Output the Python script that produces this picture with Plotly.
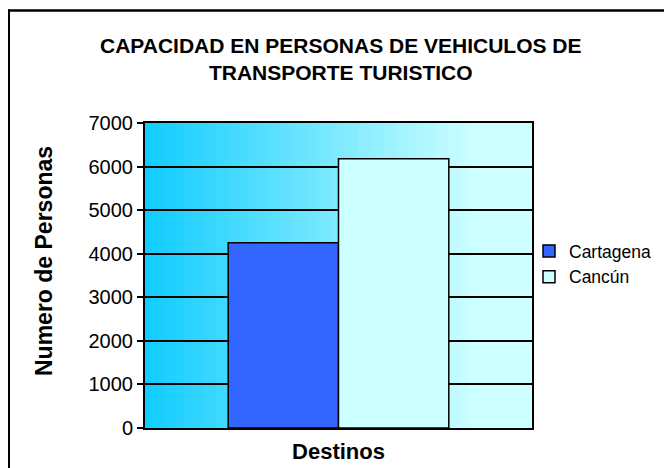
import plotly.graph_objects as go

destinos = ["Cartagena", "Cancún"]
capacidad = [4250, 6180]
colores = ["#3366FF", "#CCFFFF"]
y_ticks = [0, 1000, 2000, 3000, 4000, 5000, 6000, 7000]

FONT = "Liberation Sans, Arial, sans-serif"

# plot area in pixels: x 145..532, y 123..428
L, R, T, B = 145, 532, 123, 428
W, H = 664, 468
pw, ph = R - L, B - T


def px(xp):
    return (xp - L) / pw


def py(yp):
    return (B - yp) / ph


fig = go.Figure()
for nombre, valor, color in zip(destinos, capacidad, colores):
    fig.add_trace(go.Bar(
        x=["Destinos"], y=[valor], name=nombre,
        marker=dict(color=color, line=dict(color="black", width=1.5)),
    ))

# horizontal gradient background (cyan -> pale cyan)
shapes = []
n = 60
c0, c1 = (17, 204, 255), (204, 255, 255)
for i in range(n):
    t = min(1.0, (i + 0.5) / n / 0.85)
    c = tuple(round(a + (b - a) * t) for a, b in zip(c0, c1))
    shapes.append(dict(
        type="rect", xref="paper", yref="paper", layer="below",
        x0=i / n, x1=(i + 1) / n + 0.002, y0=0, y1=1,
        fillcolor="rgb(%d,%d,%d)" % c, line=dict(width=0),
    ))
# outer chart border (top and left edges; the rest falls outside the view)
shapes.append(dict(type="line", xref="paper", yref="paper", layer="above",
                   x0=px(8), x1=px(664), y0=py(10.5), y1=py(10.5),
                   line=dict(color="black", width=2.5)))
shapes.append(dict(type="line", xref="paper", yref="paper", layer="above",
                   x0=px(9), x1=px(9), y0=py(9.5), y1=py(468),
                   line=dict(color="black", width=2)))

fig.update_layout(
    width=W, height=H,
    margin=dict(l=L, r=W - R, t=T, b=H - B, autoexpand=False),
    paper_bgcolor="white", plot_bgcolor="rgba(0,0,0,0)",
    font=dict(family=FONT, color="black"),
    barmode="group", bargap=0.43, bargroupgap=0,
    shapes=shapes,
    showlegend=True,
    legend=dict(x=px(529), y=py(264), xanchor="left", yanchor="middle",
                font=dict(size=17.5, family=FONT), bgcolor="rgba(0,0,0,0)",
                tracegroupgap=0),
    annotations=[
        dict(
            text="CAPACIDAD EN PERSONAS DE VEHICULOS DE<br>TRANSPORTE TURISTICO",
            xref="paper", yref="paper", x=px(341), y=py(59.5),
            xanchor="center", yanchor="middle", showarrow=False,
            font=dict(size=21, family=FONT, weight="bold"),
        ),
        dict(
            text="Numero de Personas", textangle=-90,
            xref="paper", yref="paper", x=px(44), y=py(261),
            xanchor="center", yanchor="middle", showarrow=False,
            font=dict(size=23, family=FONT, weight="bold"),
        ),
    ],
)
fig.update_xaxes(
    showticklabels=False, ticks="", showgrid=False,
    showline=True, linecolor="black", linewidth=2, mirror=True,
    title=dict(text="Destinos", font=dict(size=22, family=FONT, weight="bold"), standoff=15),
)
fig.update_yaxes(
    range=[0, 7000], tickvals=y_ticks, ticks="outside", ticklen=6,
    tickcolor="black", tickwidth=1.5,
    tickfont=dict(size=20, family=FONT),
    showgrid=True, gridcolor="black", gridwidth=1.5,
    showline=True, linecolor="black", linewidth=2, mirror=True,
    zeroline=False,
)

fig.write_html("out.html", config={"displayModeBar": False},
               post_script="document.body.style.margin='0';")
